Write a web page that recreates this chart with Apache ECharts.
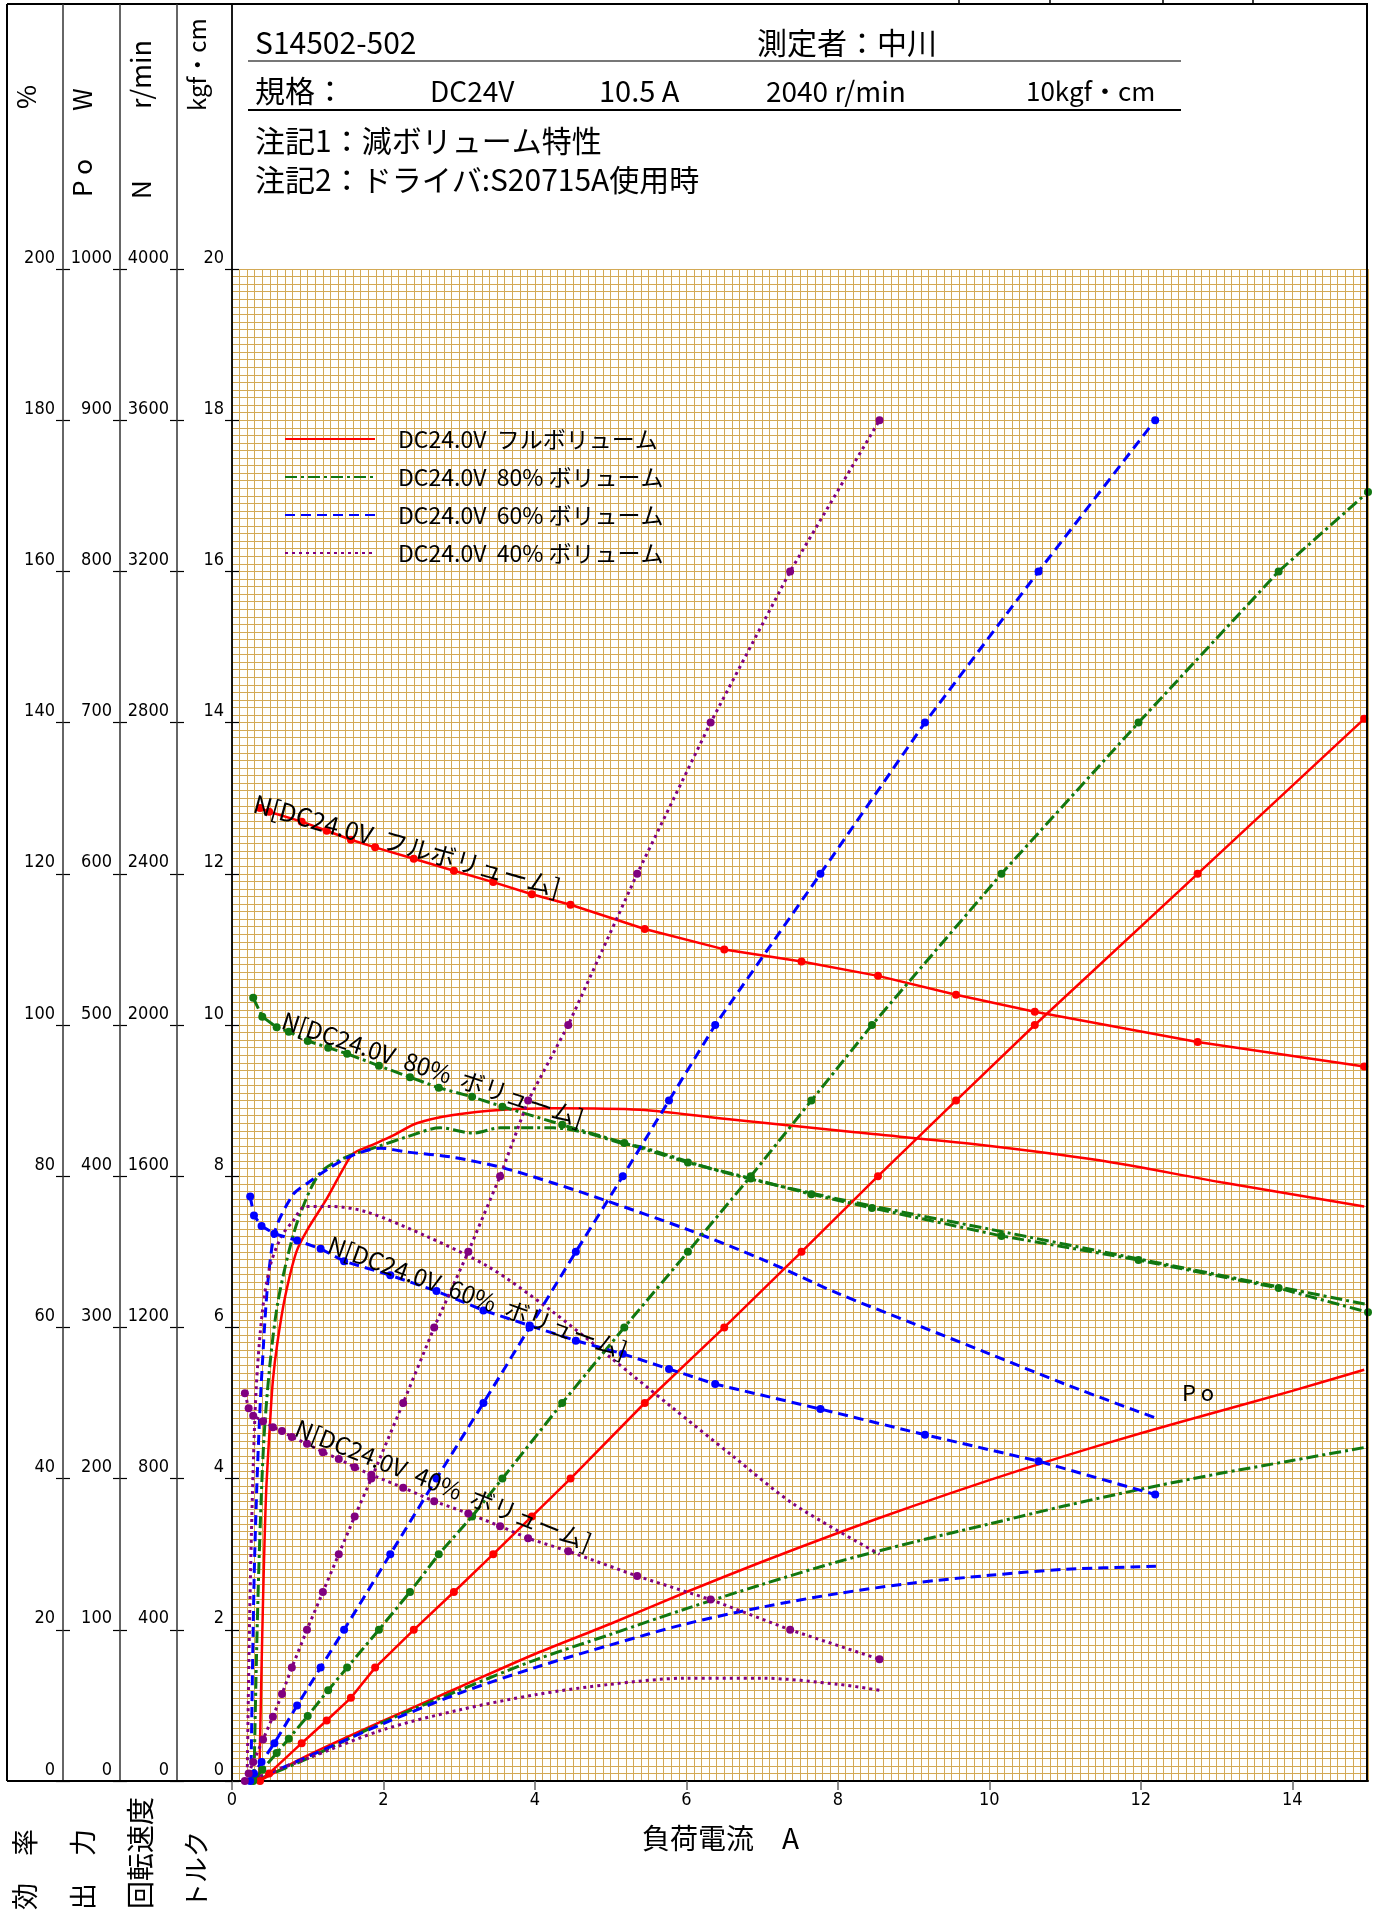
<!DOCTYPE html>
<html><head><meta charset="utf-8">
<script src="https://cdn.jsdelivr.net/npm/echarts/dist/echarts.min.js"></script>
<style>html,body{margin:0;padding:0;background:#fff}#c{width:1380px;height:1913px}</style>
</head><body><div id="c"></div>
<script>
// ---------- DATA ----------
const xTicks = [0, 2, 4, 6, 8, 10, 12, 14];
const torqueRange = [0, 20, 2];     // kgf·cm
const speedRange = [0, 4000, 400];  // r/min
const powerRange = [0, 1000, 100];  // W
const effRange = [0, 200, 20];      // %

// full volume (red)
const fullI = [0.37, 0.49, 0.92, 1.25, 1.57, 1.89, 2.40, 2.93, 3.45, 3.96, 4.47, 5.45, 6.50, 7.52, 8.53, 9.56, 10.60, 12.75, 14.95];
const fullT = [0.0, 0.1, 0.5, 0.8, 1.1, 1.5, 2.0, 2.5, 3.0, 3.5, 4.0, 5.0, 6.0, 7.0, 8.0, 9.0, 10.0, 12.0, 14.05];
const fullN = [2574, 2564, 2538, 2514, 2490, 2470, 2440, 2408, 2378, 2346, 2318, 2254, 2200, 2168, 2130, 2080, 2035, 1955, 1890];
const fullEffI = [0.36, 0.38, 0.41, 0.45, 0.50, 0.54, 0.60, 0.70, 0.85, 1.0, 1.25, 1.47, 1.60, 1.82, 2.13, 2.44, 2.92, 3.58, 4.24, 5.39, 6.5, 8.23, 9.84, 11.45, 13.06, 14.95];
const fullEff = [0, 10, 24, 38, 47, 53, 58, 64, 70, 73, 77, 81, 83, 84, 85.4, 87, 88.1, 88.8, 89, 88.8, 87.6, 85.8, 84.2, 82.1, 79.2, 76.0];
const fullPoI = [0.36, 1.0, 2.0, 3.0, 4.0, 5.0, 6.0, 7.0, 8.0, 9.0, 10.0, 11.0, 12.0, 13.0, 14.0, 14.95];
const fullPo = [0, 17, 40, 62, 84, 104, 125, 145, 164, 182, 199, 215, 230, 244, 258, 272];

// 80% volume (green)
const v80I = [0.28, 0.40, 0.59, 0.75, 1.00, 1.27, 1.52, 1.94, 2.35, 2.73, 3.17, 3.57, 4.36, 5.18, 6.02, 6.85, 7.65, 8.45, 10.16, 11.97, 13.82, 15.0];
const v80T = [0, 0.15, 0.37, 0.56, 0.86, 1.2, 1.5, 2.0, 2.5, 3.0, 3.5, 4.0, 5.0, 6.0, 7.0, 8.0, 9.0, 10.0, 12.0, 14.0, 16.0, 17.05];
const v80N = [2072, 2022, 1994, 1982, 1958, 1940, 1924, 1892, 1862, 1834, 1810, 1784, 1736, 1688, 1636, 1594, 1552, 1516, 1442, 1378, 1304, 1240];
const v80EffI = [0.29, 0.32, 0.36, 0.42, 0.5, 0.6, 0.75, 0.9, 1.16, 1.5, 1.92, 2.31, 2.75, 3.18, 3.54, 4.24, 4.69, 5.13, 5.39, 6.5, 8, 10, 12, 13.5, 15];
const v80Eff = [0, 15, 30, 45, 55, 63, 70, 75, 80.4, 82.5, 83.9, 85.2, 86.4, 85.7, 86.4, 86.4, 85.7, 84.4, 83.9, 80.5, 77, 73, 69, 66, 63];
const v80PoI = [0.3, 1, 2, 3, 4, 5, 6, 7, 8, 9, 10, 11, 12, 13, 14, 15];
const v80Po = [0, 15, 39, 60, 80, 97, 114, 130, 145, 158, 170, 182, 193, 203, 212, 221];

// 60% volume (blue)
const v60I = [0.24, 0.29, 0.39, 0.56, 0.86, 1.17, 1.48, 2.09, 2.70, 3.32, 3.93, 4.54, 5.16, 5.77, 6.38, 7.77, 9.15, 10.65, 12.19];
const v60T = [0, 0.1, 0.25, 0.5, 1, 1.5, 2, 3, 4, 5, 6, 7, 8, 9, 10, 12, 14, 16, 18];
const v60N = [1546, 1496, 1468, 1448, 1430, 1408, 1375, 1338, 1296, 1245, 1205, 1165, 1130, 1090, 1050, 984, 916, 846, 758];
const v60EffI = [0.25, 0.3, 0.4, 0.55, 0.8, 1.0, 1.29, 1.6, 1.96, 2.31, 2.92, 3.58, 4.24, 4.9, 6, 7, 8, 9, 10, 11, 12.2];
const v60Eff = [0, 30, 55, 72, 77.5, 79.1, 81.1, 82.8, 83.7, 83.2, 82.5, 81.1, 79.1, 76.9, 73, 69, 64.5, 60.5, 56.5, 52.5, 48];
const v60PoI = [0.25, 1, 2, 3, 4, 5, 6, 7, 8, 9, 10, 11, 12.2];
const v60Po = [0, 16, 38, 58, 75, 90, 104, 115, 124, 131, 136, 140, 142];

// 40% volume (purple)
const v40I = [0.17, 0.22, 0.28, 0.41, 0.54, 0.66, 0.79, 0.99, 1.20, 1.41, 1.62, 1.84, 2.26, 2.67, 3.12, 3.54, 3.91, 4.44, 5.35, 6.32, 7.37, 8.55];
const v40T = [0, 0.1, 0.25, 0.55, 0.85, 1.15, 1.5, 2.0, 2.5, 3.0, 3.5, 4.0, 5.0, 6.0, 7.0, 8.0, 9.0, 10.0, 12.0, 14.0, 16.0, 18.0];
const v40N = [1026, 986, 966, 952, 936, 926, 910, 892, 870, 852, 830, 810, 776, 740, 708, 674, 642, 608, 542, 480, 400, 322];
const v40EffI = [0.2, 0.23, 0.27, 0.32, 0.4, 0.5, 0.65, 0.8, 0.97, 1.3, 1.77, 2.58, 3.39, 4.19, 5.0, 5.8, 6.61, 7.42, 8.55];
const v40Eff = [0, 20, 38, 52, 62, 68, 72, 74, 76, 76, 75.3, 72, 68, 62.4, 56, 49.5, 43, 36.6, 30];
const v40PoI = [0.2, 1, 2, 3, 4, 5, 6, 7, 8, 8.55];
const v40Po = [0, 15, 34, 47, 57, 64, 68, 68, 64, 60];

const legendNames = ['DC24.0V  フルボリューム', 'DC24.0V  80% ボリューム', 'DC24.0V  60% ボリューム', 'DC24.0V  40% ボリューム'];
const curveLabels = ['N[DC24.0V  フルボリューム]', 'N[DC24.0V  80%  ボリューム]', 'N[DC24.0V  60%  ボリューム]', 'N[DC24.0V  40%  ボリューム]'];

// ---------- CHART ----------
const FONT = "'Noto Sans CJK JP', 'Noto Sans', sans-serif";
const NUMFONT = "'Liberation Sans Narrow', 'DejaVu Sans Condensed', 'Noto Sans', sans-serif";
const G = {left: 232, top: 269, width: 1136, height: 1512};
const GRIDC = '#d3a956';

const groups = [
  {name: legendNames[0], color: '#ff0000', dash: 'solid', w: 2.5, I: fullI, T: fullT, N: fullN, effI: fullEffI, eff: fullEff, poI: fullPoI, po: fullPo},
  {name: legendNames[1], color: '#117711', dash: [12, 4, 3, 4], w: 3, I: v80I, T: v80T, N: v80N, effI: v80EffI, eff: v80Eff, poI: v80PoI, po: v80Po},
  {name: legendNames[2], color: '#0000ff', dash: [10, 6], w: 3, I: v60I, T: v60T, N: v60N, effI: v60EffI, eff: v60Eff, poI: v60PoI, po: v60Po},
  {name: legendNames[3], color: '#800080', dash: [3, 4], w: 3, I: v40I, T: v40T, N: v40N, effI: v40EffI, eff: v40Eff, poI: v40PoI, po: v40Po}
];
const zip = (a, b) => a.map((x, i) => [x, b[i]]);

const series = [];
groups.forEach((g, k) => {
  const ls = {color: g.color, width: g.w, type: g.dash};
  series.push({type: 'line', name: 'T' + k, yAxisIndex: 0, data: zip(g.I, g.T), symbol: 'circle', symbolSize: 8,
    itemStyle: {color: g.color}, lineStyle: ls, z: 5});
  series.push({type: 'line', name: 'N' + k, yAxisIndex: 2, data: zip(g.I, g.N), symbol: 'circle', symbolSize: 8,
    itemStyle: {color: g.color}, lineStyle: ls, z: 5});
  series.push({type: 'line', name: 'E' + k, yAxisIndex: 6, data: zip(g.effI, g.eff), symbol: 'none', smooth: 0.3,
    itemStyle: {color: g.color}, lineStyle: ls, z: 4});
  series.push({type: 'line', name: g.name, yAxisIndex: 4, data: zip(g.poI, g.po), symbol: 'none', smooth: 0.3,
    itemStyle: {color: g.color}, lineStyle: ls, z: 4});
});

function yPair(r, offset) {
  const base = {type: 'value', min: r[0], max: r[1], interval: r[2], position: 'left', offset: offset,
    splitLine: {show: false}, axisLine: {show: false}};
  return [
    Object.assign({}, base, {
      axisTick: {show: true, length: 7, inside: false, lineStyle: {color: '#000', width: 1.2}},
      axisLabel: {show: true, margin: 8, fontSize: 18, fontFamily: NUMFONT, color: '#000', verticalAlign: 'bottom', lineHeight: 22,
        formatter: v => String(v)}
    }),
    Object.assign({}, base, {
      axisTick: {show: true, length: 7, inside: true, lineStyle: {color: '#000', width: 1.2}},
      axisLabel: {show: false}
    })
  ];
}
const yAxis = [].concat(
  yPair(torqueRange, 0), yPair(speedRange, 55), yPair(powerRange, 112), yPair(effRange, 169),
  [
    {type: 'value', min: 0, max: 20, interval: 0.1, show: true, axisLine: {show: false}, axisTick: {show: false}, axisLabel: {show: false},
      splitLine: {show: true, lineStyle: {color: GRIDC, width: 1}}}
  ]
);
const xAxis = [
  {type: 'value', min: 0, max: 15, position: 'bottom',
    axisLine: {show: true, lineStyle: {color: '#000', width: 2}},
    axisTick: {show: true, length: 9, customValues: xTicks, lineStyle: {color: '#666', width: 1.5}},
    axisLabel: {show: true, customValues: xTicks, margin: 10, fontSize: 18, fontFamily: NUMFONT, color: '#000'},
    splitLine: {show: false}},
  {type: 'value', min: 0, max: 15, interval: 0.1, axisLine: {show: false}, axisTick: {show: false}, axisLabel: {show: false},
    splitLine: {show: true, lineStyle: {color: GRIDC, width: 1}}}
];

function txt(x, y, text, size, opts) {
  return Object.assign({type: 'text', x: x, y: y, z: 100, style: Object.assign({text: text, fontSize: size, fontFamily: FONT, fill: '#000',
    align: 'left', verticalAlign: 'middle'}, (opts && opts.style) || {})}, (opts && opts.el) || {});
}
function ln(x1, y1, x2, y2, color, w) {
  return {type: 'line', z: 100, shape: {x1, y1, x2, y2}, style: {stroke: color || '#000', lineWidth: w || 1.5}};
}
const R90 = Math.PI / 2;
const graphic = [
  // frame
  ln(7, 4, 1368, 4, '#000', 2),
  ln(7, 4, 7, 1781, '#000', 2),
  ln(63, 4, 63, 1781, '#333', 1.5),
  ln(120, 4, 120, 1781, '#333', 1.5),
  ln(177, 4, 177, 1781, '#333', 1.5),
  ln(232, 4, 232, 1781, '#000', 1.8),
  ln(1367, 4, 1367, 1781, '#000', 2),
  ln(7, 1781, 232, 1781, '#000', 2),
  ln(959, 0, 959, 4, '#000', 1.5), ln(1050, 0, 1050, 4, '#000', 1.5), ln(1163, 0, 1163, 4, '#000', 1.5), ln(1253, 0, 1253, 4, '#000', 1.5),
  // header
  txt(255, 43, 'S14502-502', 30),
  txt(757, 43, '測定者：中川', 30),
  ln(248, 61, 1181, 61, '#777', 2),
  txt(255, 91, '規格：', 30),
  txt(430, 91, 'DC24V', 28),
  txt(599, 91, '10.5 A', 29),
  txt(766, 91, '2040 r/min', 28),
  txt(1026, 91, '10kgf・cm', 26),
  ln(248, 110, 1181, 110, '#000', 2),
  txt(255, 141, '注記1：減ボリューム特性', 30),
  txt(255, 180, '注記2：ドライバ:S20715A使用時', 30),
  // axis column titles (rotated)
  txt(26, 109, '%', 26, {el: {rotation: R90}}),
  txt(82, 197, 'P o', 26, {el: {rotation: R90}}),
  txt(82, 111, 'W', 26, {el: {rotation: R90}}),
  txt(141, 199, 'N', 26, {el: {rotation: R90}}),
  txt(141, 109, 'r/min', 27, {el: {rotation: R90}}),
  txt(197, 111, 'kgf・cm', 24, {el: {rotation: R90}}),
  txt(25, 1910, '効　率', 27, {el: {rotation: R90}}),
  txt(83, 1910, '出　力', 27, {el: {rotation: R90}}),
  txt(140, 1909, '回転速度', 28, {el: {rotation: R90}}),
  txt(196, 1909, 'トルク', 26, {el: {rotation: R90}}),
  // x axis title
  txt(642, 1838, '負荷電流　A', 28),
  // curve labels
  txt(251, 815, curveLabels[0], 25, {el: {rotation: -15.6 * Math.PI / 180}, style: {verticalAlign: 'bottom'}}),
  txt(279, 1031, curveLabels[1], 24, {el: {rotation: -18.3 * Math.PI / 180}, style: {verticalAlign: 'bottom'}}),
  txt(325, 1255, curveLabels[2], 24, {el: {rotation: -19.9 * Math.PI / 180}, style: {verticalAlign: 'bottom'}}),
  txt(292, 1438, curveLabels[3], 24, {el: {rotation: -21.6 * Math.PI / 180}, style: {verticalAlign: 'bottom'}}),
  txt(1182, 1393, 'P o', 22)
];

const chart = echarts.init(document.getElementById('c'), null, {renderer: 'canvas'});
chart.setOption({
  animation: false,
  backgroundColor: '#fff',
  grid: G,
  xAxis: xAxis,
  yAxis: yAxis,
  legend: {orient: 'vertical', left: 279, top: 422, itemWidth: 90, itemHeight: 14, itemGap: 14, selectedMode: false,
    itemStyle: {opacity: 0},
    data: legendNames, textStyle: {fontSize: 23, fontFamily: FONT, color: '#000', padding: [0, 0, 0, 18], lineHeight: 24}},
  series: series,
  graphic: graphic
});
</script></body></html>
